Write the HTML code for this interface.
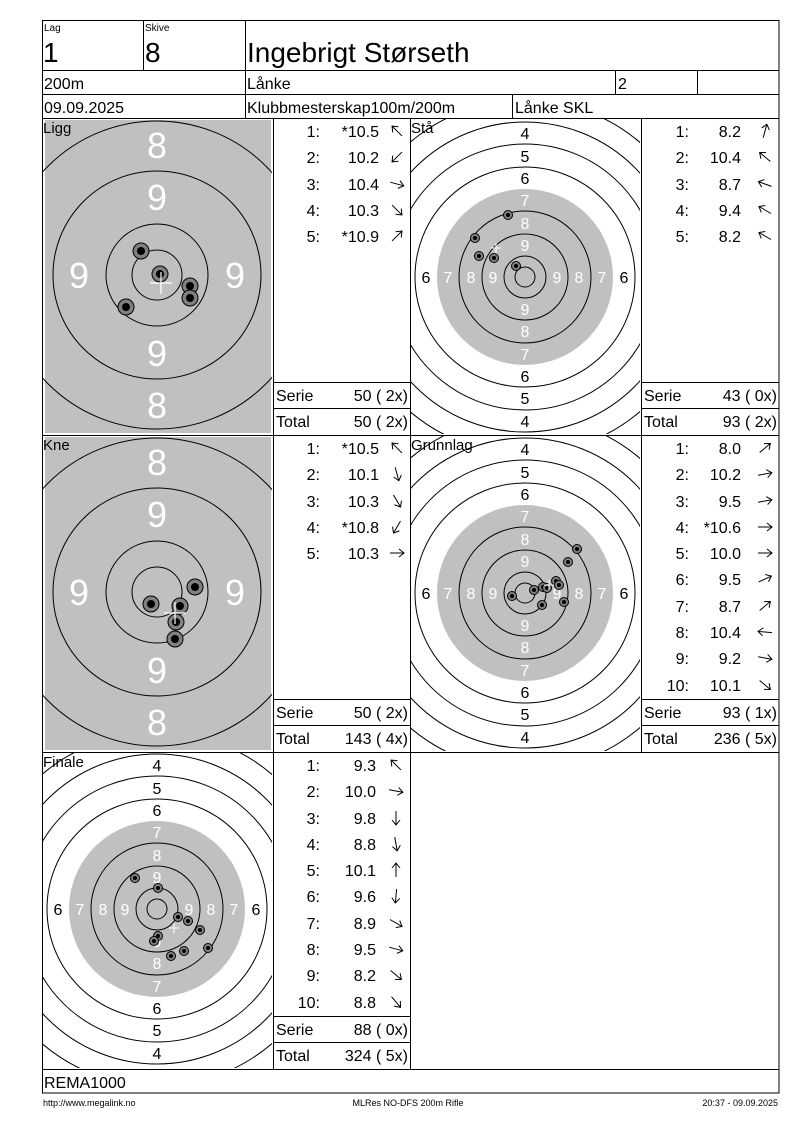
<!DOCTYPE html>
<html><head><meta charset="utf-8"><style>
html,body{margin:0;padding:0;background:#fff;width:800px;height:1130px;overflow:hidden}
svg{display:block;font-family:"Liberation Sans",Arial,sans-serif}
.ar path{fill:none;stroke:#000;stroke-width:1}
.rg circle{fill:none;stroke:#000;stroke-width:1}
.sh circle.o{fill:#808080;stroke:#000;stroke-width:1}
.sh circle.i{fill:#000}
</style></head><body>
<svg width="800" height="1130" viewBox="0 0 800 1130" xmlns="http://www.w3.org/2000/svg">
<defs>
<clipPath id="c1"><rect x="43" y="119" width="229" height="315"/></clipPath>
<clipPath id="c2"><rect x="411" y="119" width="229" height="315"/></clipPath>
<clipPath id="c3"><rect x="43" y="436" width="229" height="315"/></clipPath>
<clipPath id="c4"><rect x="411" y="436" width="229" height="315"/></clipPath>
<clipPath id="c5"><rect x="43" y="753" width="229" height="315"/></clipPath>
</defs>

<!-- LIGG target -->
<g clip-path="url(#c1)">
<rect x="45" y="120" width="226" height="313" fill="#c0c0c0"/>
<g transform="translate(157,275)">
<g class="rg"><circle r="25"/><circle r="51"/><circle r="104"/><circle r="154"/><circle r="206"/></g>
<g fill="#fff" font-size="36" text-anchor="middle">
<text x="0" y="-117">8</text><text x="0" y="-65">9</text><text x="0" y="91">9</text><text x="0" y="143">8</text>
<text x="-78" y="13">9</text><text x="78" y="13">9</text></g>
</g>
<g class="sh">
<circle class="o" cx="141" cy="251" r="8"/><circle class="i" cx="141" cy="251" r="4"/>
<circle class="o" cx="160" cy="274" r="8"/><circle class="i" cx="160" cy="274" r="4"/>
<circle class="o" cx="190" cy="286" r="8"/><circle class="i" cx="190" cy="286" r="4"/>
<circle class="o" cx="190" cy="298" r="8"/><circle class="i" cx="190" cy="298" r="4"/>
<circle class="o" cx="126" cy="307" r="8"/><circle class="i" cx="126" cy="307" r="4"/>
</g>
<path d="M150,283H172M161,272V294" stroke="#fff" stroke-width="1.2"/>
</g>

<!-- KNE target -->
<g clip-path="url(#c3)">
<rect x="45" y="437" width="226" height="313" fill="#c0c0c0"/>
<g transform="translate(157,592)">
<g class="rg"><circle r="25"/><circle r="51"/><circle r="104"/><circle r="154"/><circle r="206"/></g>
<g fill="#fff" font-size="36" text-anchor="middle">
<text x="0" y="-117">8</text><text x="0" y="-65">9</text><text x="0" y="91">9</text><text x="0" y="143">8</text>
<text x="-78" y="13">9</text><text x="78" y="13">9</text></g>
</g>
<g class="sh">
<circle class="o" cx="195" cy="587" r="8"/><circle class="i" cx="195" cy="587" r="4"/>
<circle class="o" cx="151" cy="604" r="8"/><circle class="i" cx="151" cy="604" r="4"/>
<circle class="o" cx="180" cy="606" r="8"/><circle class="i" cx="180" cy="606" r="4"/>
<circle class="o" cx="176" cy="622" r="8"/><circle class="i" cx="176" cy="622" r="4"/>
<circle class="o" cx="175" cy="639" r="8"/><circle class="i" cx="175" cy="639" r="4"/>
</g>
<path d="M164,613H186M175,602V624" stroke="#fff" stroke-width="1.2"/>
</g>

<!-- STÅ target -->
<g clip-path="url(#c2)">
<g transform="translate(525,277)">
<circle r="88" fill="#c0c0c0"/>
<g class="rg"><circle r="10"/><circle r="21"/><circle r="43"/><circle r="66"/><circle r="110"/><circle r="133"/><circle r="155"/><circle r="177"/><circle r="199"/></g>
<g font-size="16" text-anchor="middle">
<g fill="#000"><text y="-138">4</text><text y="-115">5</text><text y="-93">6</text><text y="105">6</text><text y="127">5</text><text y="150">4</text><text x="-99" y="6">6</text><text x="99" y="6">6</text></g>
<g fill="#fff"><text y="-71">7</text><text y="-48">8</text><text y="-26">9</text><text y="38">9</text><text y="60">8</text><text y="83">7</text>
<text x="-77" y="6">7</text><text x="-54" y="6">8</text><text x="-32" y="6">9</text><text x="32" y="6">9</text><text x="54" y="6">8</text><text x="77" y="6">7</text></g>
</g></g>
<g class="sh">
<circle class="o" cx="508" cy="215" r="4.5"/><circle class="i" cx="508" cy="215" r="2"/>
<circle class="o" cx="475" cy="238" r="4.5"/><circle class="i" cx="475" cy="238" r="2"/>
<circle class="o" cx="479" cy="256" r="4.5"/><circle class="i" cx="479" cy="256" r="2"/>
<circle class="o" cx="494" cy="258" r="4.5"/><circle class="i" cx="494" cy="258" r="2"/>
<circle class="o" cx="516" cy="266" r="4.5"/><circle class="i" cx="516" cy="266" r="2"/>
</g>
<path d="M491,248H501M496,243V253" stroke="#fff"/>
</g>

<!-- GRUNNLAG target -->
<g clip-path="url(#c4)">
<g transform="translate(525,593)">
<circle r="88" fill="#c0c0c0"/>
<g class="rg"><circle r="10"/><circle r="21"/><circle r="43"/><circle r="66"/><circle r="110"/><circle r="133"/><circle r="155"/><circle r="177"/><circle r="199"/></g>
<g font-size="16" text-anchor="middle">
<g fill="#000"><text y="-138">4</text><text y="-115">5</text><text y="-93">6</text><text y="105">6</text><text y="127">5</text><text y="150">4</text><text x="-99" y="6">6</text><text x="99" y="6">6</text></g>
<g fill="#fff"><text y="-71">7</text><text y="-48">8</text><text y="-26">9</text><text y="38">9</text><text y="60">8</text><text y="83">7</text>
<text x="-77" y="6">7</text><text x="-54" y="6">8</text><text x="-32" y="6">9</text><text x="32" y="6">9</text><text x="54" y="6">8</text><text x="77" y="6">7</text></g>
</g></g>
<g class="sh">
<circle class="o" cx="577" cy="549" r="4.5"/><circle class="i" cx="577" cy="549" r="2"/>
<circle class="o" cx="568" cy="562" r="4.5"/><circle class="i" cx="568" cy="562" r="2"/>
<circle class="o" cx="556" cy="581" r="4.5"/><circle class="i" cx="556" cy="581" r="2"/>
<circle class="o" cx="559" cy="585" r="4.5"/><circle class="i" cx="559" cy="585" r="2"/>
<circle class="o" cx="543" cy="587" r="4.5"/><circle class="i" cx="543" cy="587" r="2"/>
<circle class="o" cx="547" cy="588" r="4.5"/><circle class="i" cx="547" cy="588" r="2"/>
<circle class="o" cx="534" cy="590" r="4.5"/><circle class="i" cx="534" cy="590" r="2"/>
<circle class="o" cx="512" cy="596" r="4.5"/><circle class="i" cx="512" cy="596" r="2"/>
<circle class="o" cx="542" cy="605" r="4.5"/><circle class="i" cx="542" cy="605" r="2"/>
<circle class="o" cx="564" cy="602" r="4.5"/><circle class="i" cx="564" cy="602" r="2"/>
</g>
<path d="M544,585H554M549,580V590" stroke="#fff"/>
</g>

<!-- FINALE target -->
<g clip-path="url(#c5)">
<g transform="translate(157,909)">
<circle r="88" fill="#c0c0c0"/>
<g class="rg"><circle r="10"/><circle r="21"/><circle r="43"/><circle r="66"/><circle r="110"/><circle r="133"/><circle r="155"/><circle r="177"/><circle r="199"/></g>
<g font-size="16" text-anchor="middle">
<g fill="#000"><text y="-138">4</text><text y="-115">5</text><text y="-93">6</text><text y="105">6</text><text y="127">5</text><text y="150">4</text><text x="-99" y="6">6</text><text x="99" y="6">6</text></g>
<g fill="#fff"><text y="-71">7</text><text y="-48">8</text><text y="-26">9</text><text y="38">9</text><text y="60">8</text><text y="83">7</text>
<text x="-77" y="6">7</text><text x="-54" y="6">8</text><text x="-32" y="6">9</text><text x="32" y="6">9</text><text x="54" y="6">8</text><text x="77" y="6">7</text></g>
</g></g>
<g class="sh">
<circle class="o" cx="135" cy="878" r="4.5"/><circle class="i" cx="135" cy="878" r="2"/>
<circle class="o" cx="158" cy="888" r="4.5"/><circle class="i" cx="158" cy="888" r="2"/>
<circle class="o" cx="178" cy="917" r="4.5"/><circle class="i" cx="178" cy="917" r="2"/>
<circle class="o" cx="188" cy="921" r="4.5"/><circle class="i" cx="188" cy="921" r="2"/>
<circle class="o" cx="200" cy="930" r="4.5"/><circle class="i" cx="200" cy="930" r="2"/>
<circle class="o" cx="158" cy="936" r="4.5"/><circle class="i" cx="158" cy="936" r="2"/>
<circle class="o" cx="154" cy="941" r="4.5"/><circle class="i" cx="154" cy="941" r="2"/>
<circle class="o" cx="171" cy="956" r="4.5"/><circle class="i" cx="171" cy="956" r="2"/>
<circle class="o" cx="184" cy="951" r="4.5"/><circle class="i" cx="184" cy="951" r="2"/>
<circle class="o" cx="208" cy="948" r="4.5"/><circle class="i" cx="208" cy="948" r="2"/>
</g>
<path d="M169,928H179M174,923V933" stroke="#fff"/>
</g>

<!-- Grid lines -->
<g stroke="#000" stroke-width="1" fill="none" shape-rendering="crispEdges">
<rect x="42.5" y="20.5" width="736.5" height="1072.5"/>
<path d="M42,70.5H779M42,94.5H779M42,118.5H779M42,435.5H779M42,752.5H779M42,1069.5H779"/>
<path d="M143.5,20V70M245.5,20V118M615.5,70V94M697.5,70V94M512.5,94V118"/>
<path d="M273.5,118V1069M410.5,118V1069M641.5,118V752"/>
<path d="M273,382.5H410M273,408.5H410M641,382.5H779M641,408.5H779"/>
<path d="M273,699.5H410M273,725.5H410M641,699.5H779M641,725.5H779"/>
<path d="M273,1016.5H410M273,1042.5H410"/>
</g>

<!-- Header text -->
<g fill="#000">
<text x="44" y="31" font-size="10">Lag</text>
<text x="145" y="31" font-size="10">Skive</text>
<text x="43" y="62" font-size="28">1</text>
<text x="145" y="62" font-size="28">8</text>
<text x="247" y="62" font-size="28">Ingebrigt Størseth</text>
<text x="44" y="89" font-size="16">200m</text>
<text x="247" y="89" font-size="16">Lånke</text>
<text x="618" y="89" font-size="16">2</text>
<text x="44" y="113" font-size="16">09.09.2025</text>
<text x="247" y="113" font-size="16">Klubbmesterskap100m/200m</text>
<text x="515" y="113" font-size="16">Lånke SKL</text>
</g>

<!-- Panel labels -->
<g font-size="15" fill="#000">
<text x="43" y="133">Ligg</text>
<text x="411" y="133">Stå</text>
<text x="43" y="450">Kne</text>
<text x="411" y="450">Grunnlag</text>
<text x="43" y="767">Finale</text>
</g>

<!-- Lists -->
<g font-size="16" fill="#000" text-anchor="end">
<!-- Ligg -->
<text x="320" y="137">1:</text><text x="379" y="137">*10.5</text>
<text x="320" y="163">2:</text><text x="379" y="163">10.2</text>
<text x="320" y="190">3:</text><text x="379" y="190">10.4</text>
<text x="320" y="216">4:</text><text x="379" y="216">10.3</text>
<text x="320" y="242">5:</text><text x="379" y="242">*10.9</text>
<!-- Stå -->
<text x="689" y="137">1:</text><text x="741" y="137">8.2</text>
<text x="689" y="163">2:</text><text x="741" y="163">10.4</text>
<text x="689" y="190">3:</text><text x="741" y="190">8.7</text>
<text x="689" y="216">4:</text><text x="741" y="216">9.4</text>
<text x="689" y="242">5:</text><text x="741" y="242">8.2</text>
<!-- Kne -->
<text x="320" y="454">1:</text><text x="379" y="454">*10.5</text>
<text x="320" y="480">2:</text><text x="379" y="480">10.1</text>
<text x="320" y="507">3:</text><text x="379" y="507">10.3</text>
<text x="320" y="533">4:</text><text x="379" y="533">*10.8</text>
<text x="320" y="559">5:</text><text x="379" y="559">10.3</text>
<!-- Grunnlag -->
<text x="689" y="454">1:</text><text x="741" y="454">8.0</text>
<text x="689" y="480">2:</text><text x="741" y="480">10.2</text>
<text x="689" y="507">3:</text><text x="741" y="507">9.5</text>
<text x="689" y="533">4:</text><text x="741" y="533">*10.6</text>
<text x="689" y="559">5:</text><text x="741" y="559">10.0</text>
<text x="689" y="585">6:</text><text x="741" y="585">9.5</text>
<text x="689" y="612">7:</text><text x="741" y="612">8.7</text>
<text x="689" y="638">8:</text><text x="741" y="638">10.4</text>
<text x="689" y="664">9:</text><text x="741" y="664">9.2</text>
<text x="689" y="691">10:</text><text x="741" y="691">10.1</text>
<!-- Finale -->
<text x="320" y="771">1:</text><text x="376" y="771">9.3</text>
<text x="320" y="797">2:</text><text x="376" y="797">10.0</text>
<text x="320" y="824">3:</text><text x="376" y="824">9.8</text>
<text x="320" y="850">4:</text><text x="376" y="850">8.8</text>
<text x="320" y="876">5:</text><text x="376" y="876">10.1</text>
<text x="320" y="902">6:</text><text x="376" y="902">9.6</text>
<text x="320" y="929">7:</text><text x="376" y="929">8.9</text>
<text x="320" y="955">8:</text><text x="376" y="955">9.5</text>
<text x="320" y="981">9:</text><text x="376" y="981">8.2</text>
<text x="320" y="1008">10:</text><text x="376" y="1008">8.8</text>
<!-- Serie / Total values -->
<text x="408" y="401">50 ( 2x)</text><text x="408" y="427">50 ( 2x)</text>
<text x="777" y="401">43 ( 0x)</text><text x="777" y="427">93 ( 2x)</text>
<text x="408" y="718">50 ( 2x)</text><text x="408" y="744">143 ( 4x)</text>
<text x="777" y="718">93 ( 1x)</text><text x="777" y="744">236 ( 5x)</text>
<text x="408" y="1035">88 ( 0x)</text><text x="408" y="1061">324 ( 5x)</text>
</g>
<g font-size="16" fill="#000">
<text x="276" y="401">Serie</text><text x="276" y="427">Total</text>
<text x="644" y="401">Serie</text><text x="644" y="427">Total</text>
<text x="276" y="718">Serie</text><text x="276" y="744">Total</text>
<text x="644" y="718">Serie</text><text x="644" y="744">Total</text>
<text x="276" y="1035">Serie</text><text x="276" y="1061">Total</text>
</g>

<!-- Arrows -->
<g class="ar">
<!-- Ligg -->
<g transform="translate(397,131) rotate(225)"><path d="M-7,0H7M2,-4L7,0L2,4"/></g>
<g transform="translate(397,157) rotate(135)"><path d="M-7,0H7M2,-4L7,0L2,4"/></g>
<g transform="translate(397,184) rotate(15)"><path d="M-7,0H7M2,-4L7,0L2,4"/></g>
<g transform="translate(397,210) rotate(45)"><path d="M-7,0H7M2,-4L7,0L2,4"/></g>
<g transform="translate(397,236) rotate(315)"><path d="M-7,0H7M2,-4L7,0L2,4"/></g>
<!-- Stå -->
<g transform="translate(765,131) rotate(285)"><path d="M-7,0H7M2,-4L7,0L2,4"/></g>
<g transform="translate(765,157) rotate(220)"><path d="M-7,0H7M2,-4L7,0L2,4"/></g>
<g transform="translate(765,184) rotate(200)"><path d="M-7,0H7M2,-4L7,0L2,4"/></g>
<g transform="translate(765,210) rotate(210)"><path d="M-7,0H7M2,-4L7,0L2,4"/></g>
<g transform="translate(765,236) rotate(210)"><path d="M-7,0H7M2,-4L7,0L2,4"/></g>
<!-- Kne -->
<g transform="translate(397,448) rotate(225)"><path d="M-7,0H7M2,-4L7,0L2,4"/></g>
<g transform="translate(397,474) rotate(75)"><path d="M-7,0H7M2,-4L7,0L2,4"/></g>
<g transform="translate(397,501) rotate(60)"><path d="M-7,0H7M2,-4L7,0L2,4"/></g>
<g transform="translate(397,527) rotate(120)"><path d="M-7,0H7M2,-4L7,0L2,4"/></g>
<g transform="translate(397,553) rotate(0)"><path d="M-7,0H7M2,-4L7,0L2,4"/></g>
<!-- Grunnlag -->
<g transform="translate(765,448) rotate(320)"><path d="M-7,0H7M2,-4L7,0L2,4"/></g>
<g transform="translate(765,474) rotate(350)"><path d="M-7,0H7M2,-4L7,0L2,4"/></g>
<g transform="translate(765,501) rotate(350)"><path d="M-7,0H7M2,-4L7,0L2,4"/></g>
<g transform="translate(765,527) rotate(0)"><path d="M-7,0H7M2,-4L7,0L2,4"/></g>
<g transform="translate(765,553) rotate(0)"><path d="M-7,0H7M2,-4L7,0L2,4"/></g>
<g transform="translate(765,579) rotate(335)"><path d="M-7,0H7M2,-4L7,0L2,4"/></g>
<g transform="translate(765,606) rotate(320)"><path d="M-7,0H7M2,-4L7,0L2,4"/></g>
<g transform="translate(765,632) rotate(185)"><path d="M-7,0H7M2,-4L7,0L2,4"/></g>
<g transform="translate(765,658) rotate(10)"><path d="M-7,0H7M2,-4L7,0L2,4"/></g>
<g transform="translate(765,685) rotate(40)"><path d="M-7,0H7M2,-4L7,0L2,4"/></g>
<!-- Finale -->
<g transform="translate(396,765) rotate(225)"><path d="M-7,0H7M2,-4L7,0L2,4"/></g>
<g transform="translate(396,791) rotate(10)"><path d="M-7,0H7M2,-4L7,0L2,4"/></g>
<g transform="translate(396,818) rotate(90)"><path d="M-7,0H7M2,-4L7,0L2,4"/></g>
<g transform="translate(396,844) rotate(80)"><path d="M-7,0H7M2,-4L7,0L2,4"/></g>
<g transform="translate(396,870) rotate(270)"><path d="M-7,0H7M2,-4L7,0L2,4"/></g>
<g transform="translate(396,896) rotate(95)"><path d="M-7,0H7M2,-4L7,0L2,4"/></g>
<g transform="translate(396,923) rotate(30)"><path d="M-7,0H7M2,-4L7,0L2,4"/></g>
<g transform="translate(396,949) rotate(15)"><path d="M-7,0H7M2,-4L7,0L2,4"/></g>
<g transform="translate(396,975) rotate(40)"><path d="M-7,0H7M2,-4L7,0L2,4"/></g>
<g transform="translate(396,1002) rotate(50)"><path d="M-7,0H7M2,-4L7,0L2,4"/></g>
</g>

<!-- Footer -->
<text x="44" y="1088" font-size="16" fill="#000">REMA1000</text>
<g font-size="9" fill="#000">
<text x="43" y="1106">http://www.megalink.no</text>
<text x="408" y="1106" text-anchor="middle">MLRes NO-DFS 200m Rifle</text>
<text x="778" y="1106" text-anchor="end">20:37 - 09.09.2025</text>
</g>
</svg>
</body></html>
